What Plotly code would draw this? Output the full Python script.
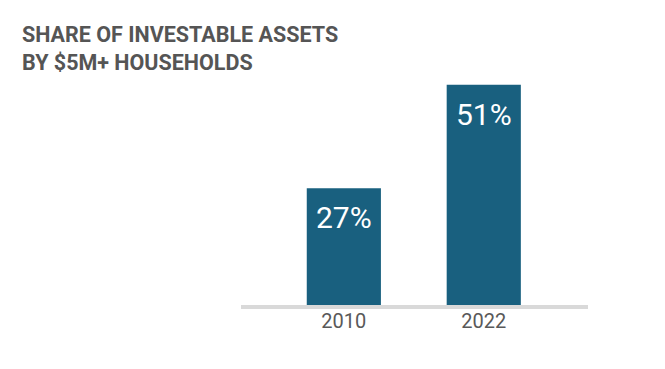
import plotly.graph_objects as go

years = ["2010", "2022"]
shares = [27, 51]
labels = ["27%", "51%"]
title_text = "SHARE OF INVESTABLE ASSETS<br>BY $5M+ HOUSEHOLDS"

bar_color = "#19607f"

fig = go.Figure()
fig.add_trace(go.Bar(
    x=years, y=shares, marker=dict(color=bar_color, line=dict(width=0)),
    width=0.53, hoverinfo="skip",
))

for i, (v, lab) in enumerate(zip(shares, labels)):
    fig.add_annotation(x=i, y=v, xref="x", yref="y", text=lab, showarrow=False,
                       yanchor="top", yshift=-10,
                       font=dict(family="Roboto", size=30, color="white"))

fig.add_shape(type="rect", xref="paper", x0=0, x1=1, yref="paper", ysizemode="pixel",
              yanchor=0, y0=0, y1=-4, fillcolor="#d9d9d9", line=dict(width=0))

fig.update_layout(
    width=665, height=369,
    margin=dict(l=233, r=85, t=62, b=72),
    paper_bgcolor="white", plot_bgcolor="white",
    showlegend=False,
    title=dict(text="<b>" + title_text + "</b>", xref="container", yref="container",
               x=14/665, xanchor="left", y=1 - 34/369, yanchor="top",
               font=dict(family="Roboto", size=21.5, color="#555555")),
    xaxis=dict(type="category", range=[-0.735, 1.745], showline=False,
               showgrid=False, zeroline=False, ticks="", ticklabelstandoff=2,
               tickfont=dict(family="Roboto", size=20, color="#595959")),
    yaxis=dict(range=[0, 54.4], visible=False, showgrid=False, zeroline=False),
)

fig.write_html("out.html")
